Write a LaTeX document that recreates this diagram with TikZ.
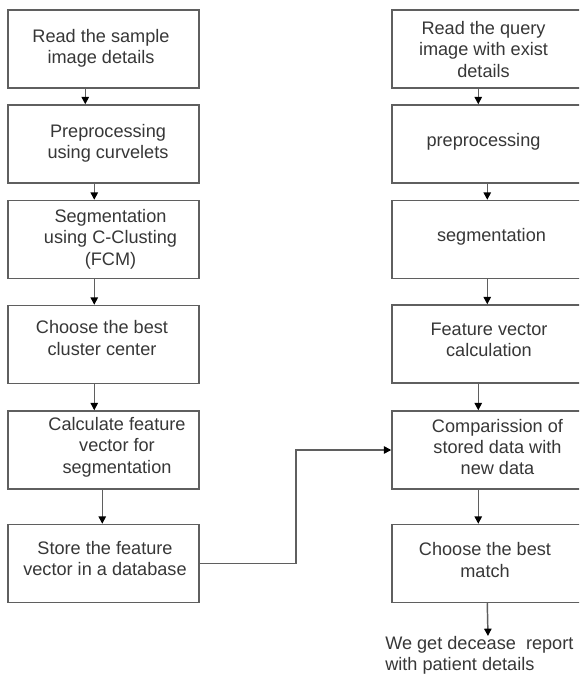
\documentclass[tikz,border=0pt]{standalone}
\usepackage{fontspec}
\setmainfont{Liberation Sans}
\usetikzlibrary{arrows.meta}
\definecolor{linegray}{RGB}{95,95,95}
\definecolor{txtgray}{RGB}{55,55,55}
\tikzset{
  box/.style={draw=linegray, line width=1.1pt, minimum width=143.25pt, minimum height=58.5pt, inner sep=0pt},
  txt/.style={text=txtgray, align=center, inner sep=0pt, font=\fontsize{13.6pt}{16pt}\selectfont},
  arr/.style={draw=linegray, line width=1.1pt, -{Triangle[length=5.5pt,width=5.5pt,color=black]}}
}
\begin{document}
\begin{tikzpicture}[x=0.75pt,y=-0.75pt]
\clip (0,0) rectangle (579,675);
\fill[white] (0,0) rectangle (579,675);
% left column boxes
\node[box] (L1) at (103.5,49) {};
\node[box] (L2) at (103.5,144) {};
\node[box] (L3) at (103.5,239.5) {};
\node[box] (L4) at (103.5,344.5) {};
\node[box] (L5) at (103.5,450) {};
\node[box] (L6) at (103.5,563.5) {};
% right column boxes
\node[box] (R1) at (487.5,49) {};
\node[box] (R2) at (487.5,144) {};
\node[box] (R3) at (487.5,239.5) {};
\node[box] (R4) at (487.5,344) {};
\node[box] (R5) at (487.5,450) {};
\node[box] (R6) at (487.5,563.5) {};
% texts
\node[txt] (tL1) at (101,48) {Read the sample\\image details};
\node[txt] (tL2) at (108,143.5) {Preprocessing\\using curvelets};
\node[txt] (tL3) at (110.5,239) {Segmentation\\using C-Clusting\\(FCM)};
\node[txt] (tL4) at (102,338) {Choose the best\\cluster center};
\node[txt] (tL5) at (117,447) {Calculate feature\\vector for\\segmentation};
\node[txt] (tL6) at (105,558.5) {Store the feature\\vector in a database};
\node[txt] (tR1) at (483.5,49.5) {Read the query\\image with exist\\details};
\node[txt] (tR2) at (483.5,142) {preprocessing};
\node[txt] (tR3) at (491.5,237) {segmentation};
\node[txt] (tR4) at (489,340) {Feature vector\\calculation};
\node[txt] (tR5) at (497.5,447) {Comparission of\\stored data with\\new data};
\node[txt] (tR6) at (485,560) {Choose the best\\match};
\node[txt, align=left, anchor=west] (tEnd) at (385,655) {We get decease\ \ report\\with patient details};
% left arrows
\draw[arr] ([xshift=58.5pt]L1.south west) -- ([xshift=58.5pt]L2.north west);
\draw[arr] ([xshift=65.25pt]L2.south west) -- ([xshift=65.25pt]L3.north west);
\draw[arr] ([xshift=65.25pt]L3.south west) -- ([xshift=65.25pt]L4.north west);
\draw[arr] ([xshift=65.25pt]L4.south west) -- ([xshift=65.25pt]L5.north west);
\draw[arr] ([xshift=71.25pt]L5.south west) -- ([xshift=71.25pt]L6.north west);
% right arrows
\draw[arr] ([xshift=65.25pt]R1.south west) -- ([xshift=65.25pt]R2.north west);
\draw[arr] ([xshift=72pt]R2.south west) -- ([xshift=72pt]R3.north west);
\draw[arr] ([xshift=72pt]R3.south west) -- ([xshift=72pt]R4.north west);
\draw[arr] ([xshift=65.25pt]R4.south west) -- ([xshift=65.25pt]R5.north west);
\draw[arr] ([xshift=65.25pt]R5.south west) -- ([xshift=65.25pt]R6.north west);
\coordinate (endtip) at (488,636);
\draw[arr] ([xshift=72pt]R6.south west) -- (endtip);
% cross connector
\coordinate (k) at (296,0);
\draw[arr] (L6.east) -- (L6.east -| k) |- (R5.west);
\end{tikzpicture}
\end{document}
